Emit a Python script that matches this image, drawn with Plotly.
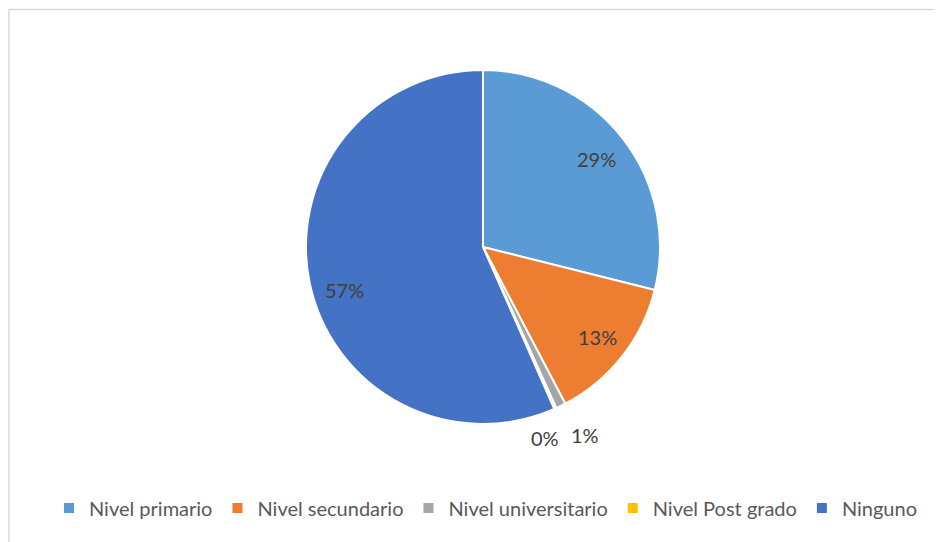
import math
import plotly.graph_objects as go

categories = ["Nivel primario", "Nivel secundario", "Nivel universitario", "Nivel Post grado", "Ninguno"]
values = [28.9, 13.4, 0.9, 0.2, 56.6]
colors = ["#5B9BD5", "#ED7D31", "#A5A5A5", "#FFC000", "#4472C4"]

W, H = 942, 542
cx, cy, r = 475, 239, 177          # pie centre / radius in px (figure coords)
label_rho = [0.81, 0.82, 1.18, 1.18, 0.83]   # label distance from centre (x radius)
label_xshift = [0, 0, 10, -23, 5]
label_yshift = [0, 0, 0, 0, -13]

fig = go.Figure(go.Pie(
    labels=categories,
    values=values,
    sort=False,
    direction="clockwise",
    rotation=0,
    marker=dict(colors=colors, line=dict(color="white", width=2)),
    textinfo="none",
    hoverinfo="label+percent",
    domain=dict(x=[(cx - r) / W, (cx + r) / W], y=[1 - (cy + r) / H, 1 - (cy - r) / H]),
))

# percentage labels placed along each slice's bisector
total = sum(values)
cum = 0.0
annotations = []
for v, rho, xs, ys in zip(values, label_rho, label_xshift, label_yshift):
    mid = (cum + v / 2) / total * 2 * math.pi
    cum += v
    px = cx + rho * r * math.sin(mid)
    py = cy - rho * r * math.cos(mid)
    annotations.append(dict(
        x=px / W, y=1 - py / H, xref="paper", yref="paper",
        text=f"{v / total * 100:.0f}%", showarrow=False, xshift=xs, yshift=ys,
        font=dict(family="Lato", size=20, color="#404040"),
        xanchor="center", yanchor="middle",
    ))

fig.update_layout(
    width=W, height=H,
    margin=dict(l=0, r=0, t=0, b=0),
    paper_bgcolor="white",
    plot_bgcolor="white",
    showlegend=True,
    legend=dict(
        orientation="h",
        x=478 / W, xanchor="center",
        y=1 - 500 / H, yanchor="middle",
        font=dict(family="Lato", size=20, color="#595959"),
        itemwidth=30,
        traceorder="normal",
    ),
    annotations=annotations,
    shapes=[dict(
        type="rect", xref="paper", yref="paper",
        x0=1 / W, x1=1.05, y0=-0.05, y1=1 - 1.5 / H,
        line=dict(color="#D9D9D9", width=1.5), fillcolor="rgba(0,0,0,0)", layer="below",
    )],
)

fig.write_html("out.html")
